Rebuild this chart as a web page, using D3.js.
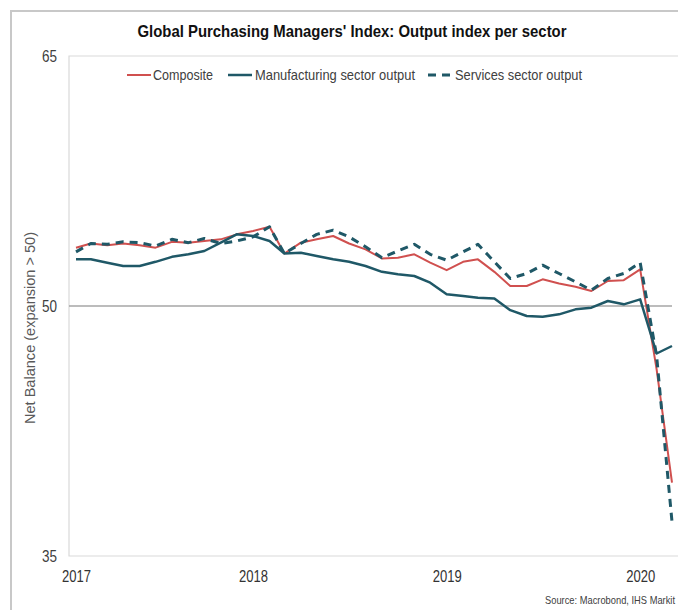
<!DOCTYPE html>
<html>
<head>
<meta charset="utf-8">
<script src="https://cdn.jsdelivr.net/npm/d3@7"></script>
<style>
  body { margin: 0; background: #fff; }
  svg { display: block; font-family: "Liberation Sans Narrow", "Arial Narrow", "Liberation Sans", Arial, sans-serif; }
</style>
</head>
<body>
<div id="graphic"></div>
<script>
// Monthly readings, Feb 2017 - Mar 2020
const months = d3.timeMonth.range(new Date(2017, 1, 1), new Date(2020, 3, 1));

const composite = [53.5, 53.75, 53.65, 53.75, 53.65, 53.5, 53.85, 53.8, 53.9, 54.0,
  54.3, 54.5, 54.75, 53.15, 53.8, 54.0, 54.2, 53.75, 53.4, 52.85,
  52.9, 53.1, 52.6, 52.15, 52.65, 52.8, 52.05, 51.2, 51.2, 51.6,
  51.35, 51.15, 50.9, 51.5, 51.55, 52.2, 46.2, 39.4];

const manufacturing = [52.8, 52.8, 52.6, 52.4, 52.4, 52.65, 52.95, 53.1, 53.3, 53.8,
  54.3, 54.2, 53.9, 53.15, 53.2, 53.0, 52.8, 52.65, 52.4, 52.05,
  51.9, 51.8, 51.4, 50.7, 50.6, 50.5, 50.45, 49.75, 49.4, 49.35,
  49.5, 49.8, 49.9, 50.3, 50.1, 50.4, 47.15, 47.6];

const services = [53.25, 53.75, 53.7, 53.85, 53.8, 53.6, 54.0, 53.8, 54.05, 53.75,
  53.9, 54.15, 54.75, 53.15, 53.75, 54.3, 54.55, 54.15, 53.55, 52.9,
  53.3, 53.7, 53.1, 52.75, 53.25, 53.7, 52.65, 51.65, 51.95, 52.45,
  51.95, 51.45, 50.95, 51.65, 51.95, 52.6, 47.0, 37.05];

const yTicks = [35, 50, 65];
const xTicks = [new Date(2017, 1, 1), new Date(2018, 0, 1), new Date(2019, 0, 1), new Date(2020, 0, 1)];

const seriesNames = ["Composite", "Manufacturing sector output", "Services sector output"];

const W = 678, H = 610;
const plot = { left: 69, top: 56, bottom: 556, right: 678 };

const svg = d3.select("#graphic")
  .append("svg")
  .attr("width", W)
  .attr("height", H);

// outer frame (cut off on the right like the original)
svg.append("path")
  .attr("d", `M11,${H} V11 H${W}`)
  .attr("fill", "none")
  .attr("stroke", "#c8c8c8")
  .attr("stroke-width", 2);

// Scales
const x = d3.scaleTime()
  .domain([months[0], months[months.length - 1]])
  .range([76, 672]);

const y = d3.scaleLinear()
  .domain([35, 65])
  .range([plot.bottom, plot.top]);

// plot frame
svg.append("path")
  .attr("d", `M${plot.right},${plot.top} H${plot.left} V${plot.bottom} H${plot.right}`)
  .attr("fill", "none")
  .attr("stroke", "#d9d9d9")
  .attr("stroke-width", 1.2);

// 50 line
svg.append("line")
  .attr("x1", plot.left)
  .attr("x2", 672)
  .attr("y1", y(50))
  .attr("y2", y(50))
  .attr("stroke", "#a6a6a6")
  .attr("stroke-width", 1.6);

// Title
svg.append("text")
  .attr("x", 352)
  .attr("y", 37)
  .attr("text-anchor", "middle")
  .attr("font-size", 17)
  .attr("font-weight", "bold")
  .attr("fill", "#111")
  .attr("textLength", 429)
  .attr("lengthAdjust", "spacingAndGlyphs")
  .text("Global Purchasing Managers' Index: Output index per sector");

// Y axis
const yAxis = svg.append("g")
  .attr("transform", `translate(${plot.left},0)`)
  .call(d3.axisLeft(y).tickValues(yTicks).tickSize(0).tickPadding(12));
yAxis.select(".domain").remove();
yAxis.selectAll("text")
  .attr("font-size", 16)
  .attr("font-family", null)
  .attr("fill", "#404040")
  .attr("textLength", 15)
  .attr("lengthAdjust", "spacingAndGlyphs");

// X axis
const xAxis = svg.append("g")
  .attr("transform", `translate(0,${plot.bottom})`)
  .call(d3.axisBottom(x).tickValues(xTicks).tickFormat(d3.timeFormat("%Y")).tickSize(0).tickPadding(15));
xAxis.select(".domain").remove();
xAxis.selectAll("text")
  .attr("font-size", 16)
  .attr("font-family", null)
  .attr("fill", "#333")
  .attr("textLength", 29)
  .attr("lengthAdjust", "spacingAndGlyphs");

// Y title
svg.append("text")
  .attr("transform", "translate(35,328) rotate(-90)")
  .attr("text-anchor", "middle")
  .attr("font-size", 15.5)
  .attr("fill", "#595959")
  .attr("textLength", 192)
  .attr("lengthAdjust", "spacingAndGlyphs")
  .text("Net Balance (expansion > 50)");

// Source
svg.append("text")
  .attr("x", 675)
  .attr("y", 604)
  .attr("text-anchor", "end")
  .attr("font-size", 11)
  .attr("fill", "#404040")
  .attr("textLength", 130)
  .attr("lengthAdjust", "spacingAndGlyphs")
  .text("Source: Macrobond, IHS Markit");

// Lines
const line = d3.line()
  .x((d, i) => x(months[i]))
  .y(d => y(d));

const styles = [
  { data: composite, color: "#d0504f", width: 2, dash: null },
  { data: manufacturing, color: "#1f5867", width: 2.5, dash: null },
  { data: services, color: "#1f5867", width: 3, dash: "8,6" }
];

styles.forEach(s => {
  svg.append("path")
    .datum(s.data)
    .attr("d", line)
    .attr("fill", "none")
    .attr("stroke", s.color)
    .attr("stroke-width", s.width)
    .attr("stroke-dasharray", s.dash)
    .attr("stroke-linejoin", "round");
});

// Legend
const legendItems = [
  { x: 127, tx: 153, tl: 60 },
  { x: 228, tx: 255, tl: 160 },
  { x: 428, tx: 455, tl: 127 }
];
legendItems.forEach((d, i) => {
  svg.append("line")
    .attr("x1", d.x).attr("x2", d.x + 24)
    .attr("y1", 75).attr("y2", 75)
    .attr("stroke", styles[i].color)
    .attr("stroke-width", styles[i].width)
    .attr("stroke-dasharray", i === 2 ? "8,6" : null);
  svg.append("text")
    .attr("x", d.tx)
    .attr("y", 80)
    .attr("font-size", 14.5)
    .attr("fill", "#404040")
    .attr("textLength", d.tl)
    .attr("lengthAdjust", "spacingAndGlyphs")
    .text(seriesNames[i]);
});
</script>
</body>
</html>
